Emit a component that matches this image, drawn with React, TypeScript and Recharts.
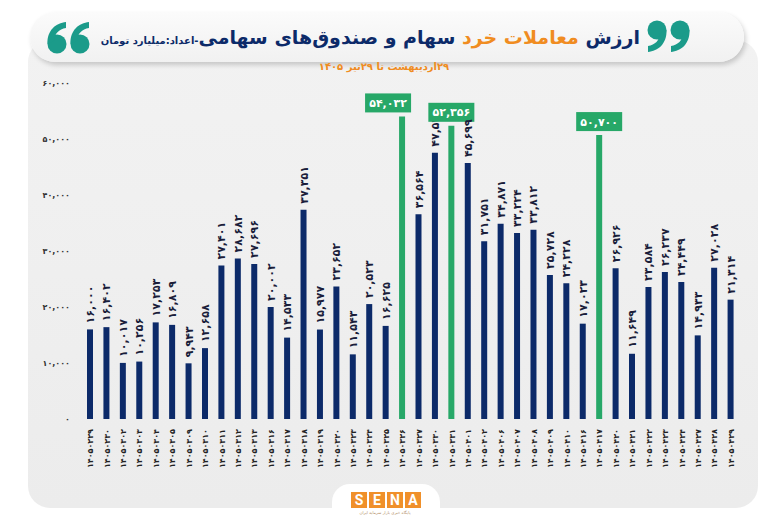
import React from 'react';
import { BarChart, Bar, XAxis, YAxis, Cell, LabelList } from 'recharts';

const dates = [
	'14050229', '14050230', '14050302', '14050303', '14050304',
	'14050305', '14050309', '14050310', '14050311', '14050312',
	'14050313', '14050316', '14050317', '14050318', '14050319',
	'14050320', '14050323', '14050324', '14050325', '14050326',
	'14050327', '14050330', '14050331', '14050401', '14050402',
	'14050406', '14050407', '14050408', '14050409', '14050410',
	'14050416', '14050417', '14050420', '14050421', '14050422',
	'14050423', '14050424', '14050427', '14050428', '14050429'
];

const values = [
	16000, 16402, 10017, 10256, 17253,
	16809, 9943, 12658, 27401, 28682,
	27696, 20002, 14533, 37351, 15977,
	23652, 11543, 20523, 16625, 54032,
	36564, 47546, 52356, 45699, 31751,
	34871, 33224, 33812, 25728, 24228,
	17023, 50700, 26926, 11649, 23584,
	26237, 24449, 14933, 27028, 21314
];

// record days shown in green
const highlighted = ['14050326', '14050331', '14050417'];

const yTicks = [0, 10000, 20000, 30000, 40000, 50000, 60000];

const data = dates.map((d, i) => ({
	date: d,
	value: values[i],
	hl: highlighted.includes(d)
}));

const NAVY = '#0c2a69';
const GREEN = '#27a868';
const ORANGE = '#f08c21';
const TEAL = '#1b9b8a';
const FONT = '"DejaVu Sans", sans-serif';

const faDigits = (s: string) =>
	s.replace(/[0-9]/g, (c) => '۰۱۲۳۴۵۶۷۸۹'[Number(c)]);

const fmt = (n: number) => faDigits(n.toLocaleString('en-US'));

const XTick = (props: any) => {
	const { x, y, payload } = props;
	return (
		<g transform={`translate(${x},${y})`}>
			<text
				transform='rotate(-90)'
				textAnchor='end'
				dy={3}
				fontSize={8}
				fontWeight='bold'
				fontFamily={FONT}
				fill='#222'
			>
				{faDigits(payload.value)}
			</text>
		</g>
	);
};

const YTick = (props: any) => {
	const { x, y, payload } = props;
	return (
		<text
			x={x}
			y={y}
			dy={3}
			textAnchor='end'
			fontSize={8}
			fontWeight='bold'
			fontFamily={FONT}
			fill='#333'
		>
			{fmt(payload.value)}
		</text>
	);
};

const ValueLabel = (props: any) => {
	const { x, y, width, value, index } = props;
	const cx = x + width / 2;
	if (data[index] && data[index].hl) {
		const w = 46;
		const h = 19;
		// nudge left when another record bar sits close on the right
		const bx = data[index + 3] && data[index + 3].hl ? cx - 14 : cx;
		return (
			<g>
				<rect x={bx - w / 2} y={y - 4 - h} width={w} height={h} fill={GREEN} />
				<text
					x={bx}
					y={y - 4 - h / 2}
					dy={4}
					textAnchor='middle'
					fontSize={11}
					fontWeight='bold'
					fontFamily={FONT}
					fill='#fff'
				>
					{fmt(value)}
				</text>
			</g>
		);
	}
	return (
		<text
			transform={`translate(${cx + 4},${y - 6}) rotate(-90)`}
			textAnchor='start'
			fontSize={11}
			fontWeight='bold'
			fontFamily={FONT}
			fill='#1a1d3a'
		>
			{fmt(value)}
		</text>
	);
};

// a "6" shaped quote mark; the "9" is the same shape turned round
const QuoteSix = ({ cx, cy }: { cx: number; cy: number }) => (
	<g fill={TEAL}>
		<circle cx={cx} cy={cy} r={9.5} />
		<path
			d={`M ${cx - 9.5} ${cy} C ${cx - 10} ${cy - 14}, ${cx - 1} ${cy - 21}, ${cx + 9} ${cy - 22}
				L ${cx + 9} ${cy - 16} C ${cx + 2} ${cy - 15}, ${cx - 3} ${cy - 10}, ${cx - 2} ${cy - 4} Z`}
		/>
	</g>
);

const Quotes = ({ x, flip }: { x: number; flip: boolean }) => (
	<svg
		width={50}
		height={40}
		style={{ position: 'absolute', left: x, top: 17 }}
	>
		<g transform={flip ? 'rotate(180 25 20)' : undefined}>
			<QuoteSix cx={13} cy={27} />
			<QuoteSix cx={36} cy={27} />
		</g>
	</svg>
);

export default function App() {
	return (
		<div
			style={{
				position: 'fixed',
				left: 0,
				top: 0,
				width: 768,
				height: 532,
				background: '#fff',
				overflow: 'hidden',
				fontFamily: FONT
			}}
		>
			{/* main panel */}
			<div
				style={{
					position: 'absolute',
					left: 28,
					top: 40,
					width: 730,
					height: 468,
					borderRadius: 22,
					background: 'linear-gradient(180deg, #f2f2f2 0%, #ececec 100%)'
				}}
			/>
			{/* bottom notch for the logo */}
			<div
				style={{
					position: 'absolute',
					left: 332,
					top: 484,
					width: 108,
					height: 60,
					borderRadius: 18,
					background: '#fff'
				}}
			/>
			{/* title pill */}
			<div
				style={{
					position: 'absolute',
					left: 30,
					top: 12,
					width: 714,
					height: 50,
					borderRadius: 26,
					background: 'linear-gradient(180deg, #fbfbfb 0%, #f1f1f1 100%)',
					boxShadow: '2px 3px 5px rgba(0,0,0,0.18)'
				}}
			/>
			<Quotes x={44} flip={false} />
			<Quotes x={643} flip={true} />
			<div
				dir='rtl'
				style={{
					position: 'absolute',
					right: 128,
					top: 23,
					whiteSpace: 'nowrap',
					fontWeight: 'bold',
					color: NAVY,
					fontSize: 19,
					lineHeight: '28px'
				}}
			>
				<span>ارزش </span>
				<span style={{ color: ORANGE }}>معاملات خرد </span>
				<span>سهام و صندوق‌های سهامی</span>
				<span style={{ fontSize: 10, fontWeight: 'bold' }}>-اعداد:میلیارد تومان</span>
			</div>
			<div
				dir='rtl'
				style={{
					position: 'absolute',
					left: 0,
					width: 768,
					top: 61,
					textAlign: 'center',
					fontSize: 10,
					fontWeight: 'bold',
					color: ORANGE
				}}
			>
				۲۹اردیبهشت تا ۲۹تیر ۱۴۰۵
			</div>

			<div style={{ position: 'absolute', left: 0, top: 0 }}>
				<BarChart
					width={768}
					height={532}
					data={data}
					margin={{ top: 83, right: 29, left: 0, bottom: 53 }}
					barSize={6}
				>
					<XAxis
						dataKey='date'
						interval={0}
						height={60}
						axisLine={false}
						tickLine={false}
						tick={<XTick />}
						tickMargin={4}
					/>
					<YAxis
						width={82}
						domain={[0, 60000]}
						ticks={yTicks}
						axisLine={false}
						tickLine={false}
						tick={<YTick />}
						tickMargin={6}
					/>
					<Bar dataKey='value' isAnimationActive={false}>
						{data.map((d, i) => (
							<Cell key={`cell-${i}`} fill={d.hl ? GREEN : NAVY} />
						))}
						<LabelList dataKey='value' content={<ValueLabel />} />
					</Bar>
				</BarChart>
			</div>

			{/* logo */}
			<div
				style={{
					position: 'absolute',
					left: 351,
					top: 492,
					display: 'flex',
					gap: 2
				}}
			>
				{['S', 'E', 'N', 'A'].map((c) => (
					<div
						key={c}
						style={{
							width: 16,
							height: 16,
							background: '#f0902a',
							color: '#fff',
							fontFamily: 'Roboto, sans-serif',
							fontWeight: 'bold',
							fontSize: 14,
							lineHeight: '16px',
							textAlign: 'center'
						}}
					>
						{c}
					</div>
				))}
			</div>
			<div
				dir='rtl'
				style={{
					position: 'absolute',
					left: 345,
					width: 80,
					top: 510,
					textAlign: 'center',
					fontSize: 4,
					color: '#b08a60'
				}}
			>
				پایگاه خبری بازار سرمایه ایران
			</div>
		</div>
	);
}
